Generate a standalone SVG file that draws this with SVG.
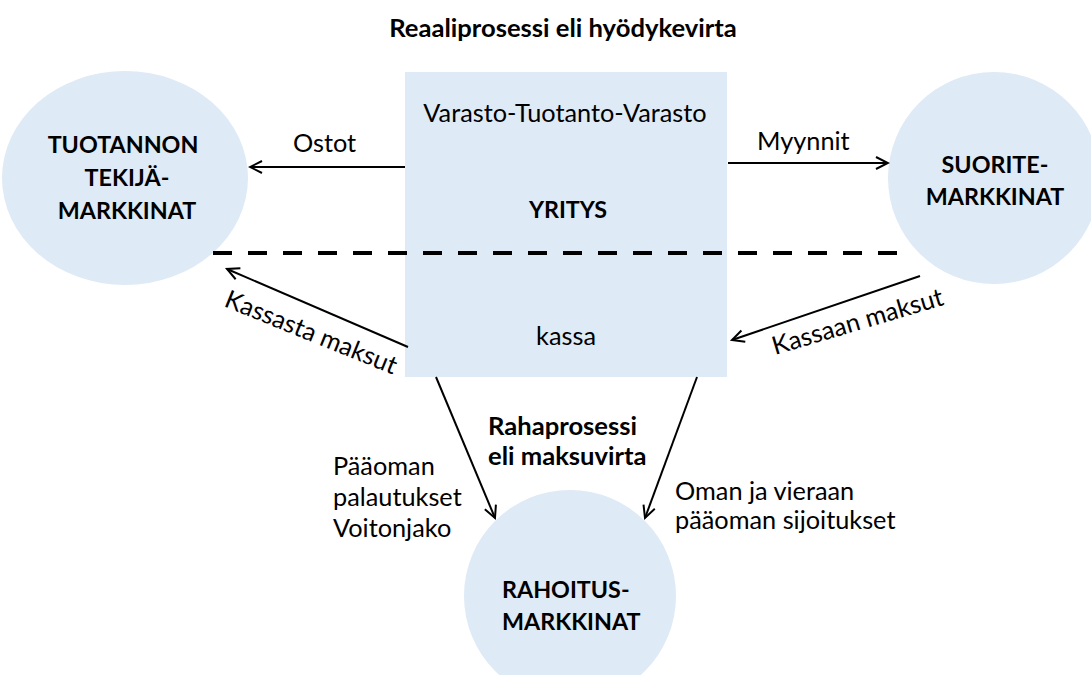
<svg xmlns="http://www.w3.org/2000/svg" width="1091" height="675" viewBox="0 0 1091 675">
  <style>
    .shape { fill: #DEEAF6; stroke: none; }
    .lbl { font-family: Lato, "Liberation Sans", sans-serif; font-size: 25.3px; fill: #000; }
    .bold { font-family: Lato, "Liberation Sans", sans-serif; font-size: 23.3px; font-weight: bold; fill: #000; }
    .head { font-family: Lato, "Liberation Sans", sans-serif; font-size: 25.6px; font-weight: bold; fill: #000; }
    .mid { text-anchor: middle; }
    .flow { stroke: #000; stroke-width: 2; fill: none; marker-end: url(#open); }
  </style>
  <defs>
    <marker id="open" viewBox="-14 -8 16 16" refX="0" refY="0" markerWidth="16" markerHeight="16" markerUnits="userSpaceOnUse" orient="auto">
      <path d="M-12,-6 L0,0 L-12,6" fill="none" stroke="#000" stroke-width="2"/>
    </marker>
  </defs>
  <rect width="1091" height="675" fill="#fff"/>

  <text class="head mid" x="563" y="37">Reaaliprosessi eli hyödykevirta</text>

  <!-- company block -->
  <g id="yritys">
    <rect class="shape" x="405" y="72" width="322" height="305"/>
    <text class="lbl mid" x="565" y="122">Varasto-Tuotanto-Varasto</text>
    <text class="bold mid" x="568" y="218">YRITYS</text>
    <text class="lbl mid" x="566" y="345">kassa</text>
  </g>

  <!-- markets -->
  <g id="tuotannontekijamarkkinat">
    <ellipse class="shape" cx="125" cy="178" rx="123" ry="107"/>
    <text class="bold mid" x="123" y="153">TUOTANNON</text>
    <text class="bold mid" x="127" y="186">TEKIJÄ-</text>
    <text class="bold mid" x="127" y="219">MARKKINAT</text>
  </g>
  <g id="suoritemarkkinat">
    <circle class="shape" cx="994" cy="178" r="106"/>
    <text class="bold mid" x="995" y="173">SUORITE-</text>
    <text class="bold mid" x="995" y="205">MARKKINAT</text>
  </g>
  <g id="rahoitusmarkkinat">
    <circle class="shape" cx="570" cy="596" r="106"/>
    <text class="bold" x="502" y="598">RAHOITUS-</text>
    <text class="bold" x="502" y="630">MARKKINAT</text>
  </g>

  <!-- boundary between the real process and the money process -->
  <line x1="213" y1="253" x2="910" y2="253" stroke="#000" stroke-width="4" stroke-dasharray="19 16"/>

  <g id="connectors">
    <line class="flow" x1="405" y1="167" x2="250" y2="167"/>
    <line class="flow" x1="728" y1="163" x2="888" y2="163"/>
    <line class="flow" x1="408" y1="347" x2="227" y2="269"/>
    <line class="flow" x1="920" y1="276" x2="732" y2="340"/>
    <line class="flow" x1="436" y1="377" x2="495" y2="518"/>
    <line class="flow" x1="697" y1="377" x2="645" y2="518"/>
  </g>

  <g id="labels">
    <text class="lbl" x="293" y="152">Ostot</text>
    <text class="lbl" x="757" y="150">Myynnit</text>
    <text class="lbl" transform="translate(223 306) rotate(22)">Kassasta maksut</text>
    <text class="lbl" transform="translate(775 355) rotate(-16.5)">Kassaan maksut</text>
    <text class="head" x="488" y="435">Rahaprosessi</text>
    <text class="head" x="488" y="465">eli maksuvirta</text>
    <text class="lbl" x="333" y="475">Pääoman</text>
    <text class="lbl" x="333" y="506">palautukset</text>
    <text class="lbl" x="333" y="537">Voitonjako</text>
    <text class="lbl" x="675" y="500">Oman ja vieraan</text>
    <text class="lbl" x="675" y="529">pääoman sijoitukset</text>
  </g>
</svg>
